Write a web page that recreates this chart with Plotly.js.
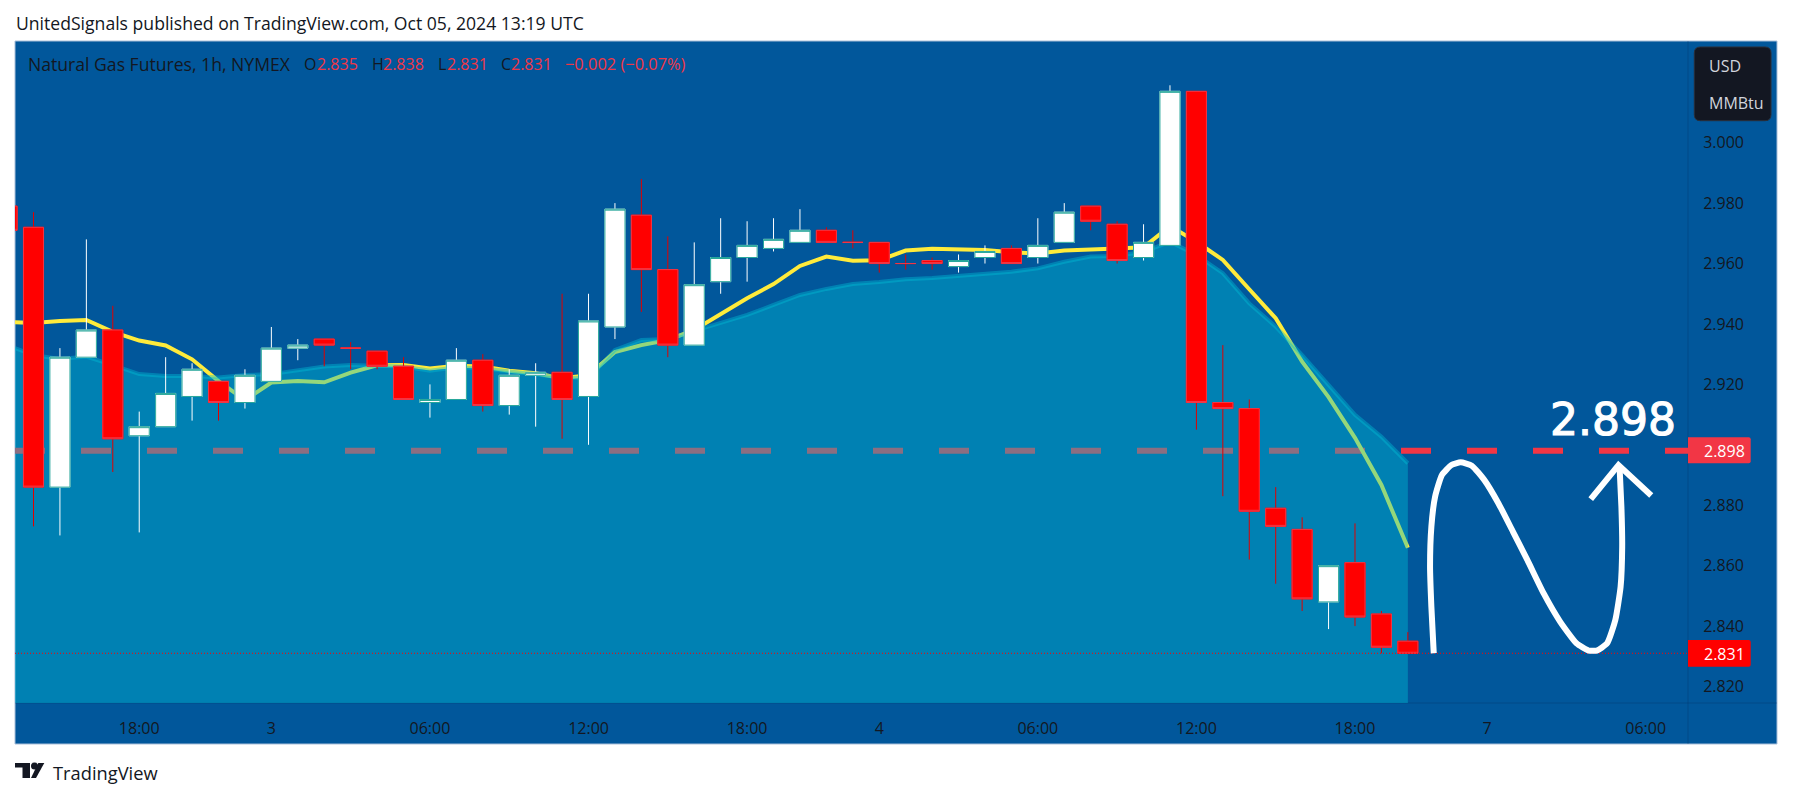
<!DOCTYPE html>
<html>
<head>
<meta charset="utf-8">
<script src="https://cdn.plot.ly/plotly-3.0.1.min.js"></script>
<style>
html,body{margin:0;padding:0;background:#fff;overflow:hidden}#chart{width:1793px;height:798px}
.annotation[data-index="11"] text{stroke:#ffffff;stroke-width:1.1px}
</style>
</head>
<body>
<div id="chart"></div>
<script>
// ---- data ----
var firstBar = -1;
var open  = [2.979,2.972,2.886,2.929,2.938,2.903,2.906,2.916,2.921,2.914,2.921,2.932,2.935,2.932,2.931,2.926,2.914,2.915,2.928,2.913,2.923,2.924,2.916,2.939,2.976,2.958,2.933,2.954,2.962,2.965,2.967,2.971,2.967,2.967,2.960,2.961,2.959,2.962,2.965,2.962,2.967,2.979,2.973,2.962,2.966,3.017,2.914,2.912,2.879,2.872,2.848,2.861,2.844,2.835];
var high  = [2.979,2.977,2.932,2.968,2.946,2.911,2.929,2.927,2.921,2.925,2.939,2.935,2.935,2.934,2.931,2.929,2.920,2.932,2.930,2.925,2.927,2.950,2.950,2.980,2.988,2.969,2.967,2.975,2.974,2.975,2.978,2.972,2.971,2.967,2.963,2.962,2.963,2.966,2.966,2.975,2.980,2.979,2.974,2.973,3.019,3.017,2.933,2.915,2.886,2.876,2.860,2.874,2.845,2.838];
var low   = [2.971,2.873,2.870,2.929,2.891,2.871,2.906,2.908,2.908,2.912,2.921,2.928,2.926,2.925,2.925,2.915,2.909,2.915,2.911,2.910,2.906,2.902,2.900,2.935,2.944,2.929,2.933,2.950,2.954,2.964,2.967,2.967,2.965,2.957,2.958,2.958,2.957,2.960,2.960,2.960,2.967,2.971,2.960,2.961,2.966,2.905,2.883,2.862,2.854,2.845,2.839,2.840,2.831,2.831];
var close = [2.971,2.886,2.929,2.938,2.902,2.906,2.917,2.925,2.914,2.923,2.932,2.933,2.933,2.932,2.926,2.915,2.915,2.928,2.913,2.923,2.924,2.915,2.941,2.978,2.958,2.933,2.953,2.962,2.966,2.968,2.971,2.967,2.967,2.960,2.960,2.960,2.961,2.964,2.960,2.966,2.977,2.974,2.961,2.967,3.017,2.914,2.912,2.878,2.873,2.849,2.860,2.843,2.833,2.831];
var emaFast = [2.9407,2.9403,2.9410,2.9413,2.9374,2.9345,2.9329,2.9283,2.9211,2.9148,2.9206,2.9211,2.9207,2.9239,2.9263,2.9264,2.9253,2.9262,2.9259,2.9245,2.9237,2.9220,2.9230,2.9307,2.9330,2.9347,2.9380,2.9433,2.9485,2.9532,2.9592,2.9623,2.9609,2.9611,2.9643,2.9649,2.9648,2.9645,2.9637,2.9633,2.9643,2.9648,2.9650,2.9654,2.9724,2.9672,2.9612,2.9515,2.9419,2.9275,2.9158,2.9023,2.8867,2.8659];
var emaSlow = [2.9330,2.9297,2.9284,2.9292,2.9264,2.9234,2.9228,2.9228,2.9223,2.9231,2.9234,2.9248,2.9259,2.9264,2.9261,2.9259,2.9245,2.9257,2.9253,2.9244,2.9234,2.9223,2.9220,2.9314,2.9347,2.9350,2.9377,2.9403,2.9430,2.9463,2.9496,2.9516,2.9532,2.9539,2.9548,2.9552,2.9559,2.9568,2.9573,2.9584,2.9606,2.9623,2.9625,2.9639,2.9672,2.9628,2.9568,2.9468,2.9391,2.9297,2.9198,2.9099,2.9027,2.8939];
var targetPrice = 2.898;
var lastPrice = 2.831;
var xTickBars = [4,9,15,21,27,32,38,44,50,55,61];
var xTickText = ['18:00','3','06:00','12:00','18:00','4','06:00','12:00','18:00','7','06:00'];
var yTickVals = [3.00,2.98,2.96,2.94,2.92,2.88,2.86,2.84,2.82];
var yTickText = ['3.000','2.980','2.960','2.940','2.920','2.880','2.860','2.840','2.820'];
// hand-drawn projection on the chart
var curveX = [52.98,52.89,52.84,52.89,53.03,53.29,53.65,54.00,54.42,54.89,55.43,55.98,56.52,57.14,57.76,58.38,58.84,59.15,59.54,59.85,60.05,60.11,60.08,60.01];
var curveY = [2.8310,2.8464,2.8597,2.8729,2.8828,2.8900,2.8933,2.8942,2.8931,2.8884,2.8806,2.8712,2.8619,2.8508,2.8415,2.8343,2.8319,2.8319,2.8343,2.8420,2.8530,2.8663,2.8795,2.8928];
var arrowX = [58.92,59.97,61.21];
var arrowY = [2.8820,2.8933,2.8832];

// ---- layout helpers ----
var FONT = '"Open Sans", "Noto Sans", sans-serif';
var INK = '#131722', SELL = '#f23645', BG = '#01579b', W = 1673, H = 662, L = 15, B = 703;
var xRange = [-0.70, 62.60], yRange = [2.81454, 3.03366];
var px = function (v) { return (v - L) / W; };
var py = function (v) { return (B - v) / H; };
var bars = open.map(function (_, i) { return firstBar + i; });
var bodyHigh = open.map(function (v, i) { return Math.max(v, close[i]); });
var bodyLow  = open.map(function (v, i) { return Math.min(v, close[i]); });

function text(t, x, y, size, color, anchor, family) {
  return { text: t, xref: 'paper', yref: 'paper', x: px(x), y: py(y), xanchor: anchor || 'left', yanchor: 'middle',
           showarrow: false, borderpad: 0, font: { family: family || FONT, size: size, color: color } };
}
function rect(x0, y0, x1, y1, fill, line) {
  return { type: 'rect', xref: 'paper', yref: 'paper', x0: px(x0), x1: px(x1), y0: py(y0), y1: py(y1),
           fillcolor: fill, line: { color: line || fill, width: line ? 1 : 0 }, layer: 'below' };
}
function rule(x0, y0, x1, y1, c) {
  return { type: 'line', xref: 'paper', yref: 'paper', x0: px(x0), x1: px(x1), y0: py(y0), y1: py(y1), line: { color: c, width: 1 }, layer: 'below' };
}
function poly(pts, fill) {
  var d = pts.map(function (p, i) { return (i ? 'L' : 'M') + px(p[0]) + ',' + py(p[1]); }).join(' ') + ' Z';
  return { type: 'path', xref: 'paper', yref: 'paper', path: d, fillcolor: fill, line: { width: 0 }, layer: 'above' };
}
// rectangle with rounded corners; rl / rr are the left and right radii in pixels
function rounded(x0, y0, x1, y1, rl, rr, fill, line) {
  var P = function (x, y) { return px(x) + ',' + py(y); };
  var d = 'M' + P(x0 + rl, y0) + ' L' + P(x1 - rr, y0) + ' Q' + P(x1, y0) + ' ' + P(x1, y0 + rr) +
          ' L' + P(x1, y1 - rr) + ' Q' + P(x1, y1) + ' ' + P(x1 - rr, y1) +
          ' L' + P(x0 + rl, y1) + ' Q' + P(x0, y1) + ' ' + P(x0, y1 - rl) +
          ' L' + P(x0, y0 + rl) + ' Q' + P(x0, y0) + ' ' + P(x0 + rl, y0) + ' Z';
  return { type: 'path', xref: 'paper', yref: 'paper', path: d, fillcolor: fill, line: { color: line || fill, width: line ? 1 : 0 }, layer: 'below' };
}

var overlay = { xaxis: 'x2', yaxis: 'y2', hoverinfo: 'skip', showlegend: false };
var traces = [
  { x: xRange, y: [targetPrice, targetPrice], mode: 'lines', hoverinfo: 'skip', line: { color: SELL, width: 6, dash: '30px,36px' } },
  { x: bars, y: emaFast, mode: 'lines', hoverinfo: 'skip', line: { color: '#ffeb3b', width: 4 } },
  { x: bars, y: emaSlow, mode: 'lines', hoverinfo: 'skip', fill: 'tozeroy', fillcolor: 'rgba(0,188,212,0.42)', line: { color: 'rgba(0,188,212,0.42)', width: 4 } },
  Object.assign({ type: 'candlestick', x: bars, open: open, high: high, low: low, close: close, whiskerwidth: 0,
    increasing: { line: { color: '#ffffff', width: 1 }, fillcolor: '#ffffff' },
    decreasing: { line: { color: '#e00000', width: 1 }, fillcolor: '#ff0000' } }, overlay),
  Object.assign({ type: 'candlestick', x: bars, open: open, high: bodyHigh, low: bodyLow, close: close, whiskerwidth: 0,
    increasing: { line: { color: '#26a69a', width: 1 }, fillcolor: '#ffffff' },
    decreasing: { line: { color: SELL, width: 1 }, fillcolor: '#ff0000' } }, overlay),
  Object.assign({ x: xRange, y: [lastPrice, lastPrice], mode: 'lines', line: { color: '#ff0000', width: 1, dash: '1px,2px' } }, overlay),
  Object.assign({ x: curveX, y: curveY, mode: 'lines', line: { color: '#ffffff', width: 6, shape: 'spline', smoothing: 0.5 } }, overlay),
  Object.assign({ x: arrowX, y: arrowY, mode: 'lines', line: { color: '#ffffff', width: 6 } }, overlay)
];

var annotations = [
  text('UnitedSignals published on TradingView.com, Oct 05, 2024 13:19 UTC', 15, 23, 17.6, INK),
  text('Natural Gas Futures, 1h, NYMEX', 27, 64, 17.6, INK),
  text('O', 303, 64, 16, INK), text('2.835', 316, 64, 16, SELL),
  text('H', 371, 64, 16, INK), text('2.838', 382, 64, 16, SELL),
  text('L', 437, 64, 16, INK), text('2.831', 446, 64, 16, SELL),
  text('C', 500, 64, 16, INK), text('2.831', 510, 64, 16, SELL),
  text('\u22120.002 (\u22120.07%)', 564, 64, 16.4, SELL),
  text('2.898', 1677, 419, 44, '#ffffff', 'right', '"DejaVu Sans"'),
  text('2.898', 1703, 451, 16, '#ffffff'),
  text('2.831', 1703, 654, 16, '#ffffff'),
  text('USD', 1708, 66, 16, '#d1d4dc'),
  text('MMBtu', 1708, 103, 16, '#d1d4dc'),
  text('TradingView', 51.7, 772, 18.3, INK)
];

var shapes = [
  rect(15, 41, 1777, 744, BG, '#a9bfd9'),
  rule(1688, 41, 1688, 744, 'rgba(10,40,90,0.28)'),
  rule(15, 703, 1777, 703, 'rgba(10,40,90,0.28)'),
  rounded(1688, 437.3, 1750.7, 463.3, 0, 2, SELL),
  rounded(1688, 640, 1750.7, 666.7, 0, 2, '#ff0000'),
  rounded(1694.3, 47, 1771, 120.7, 6, 6, INK, '#2a2e39'),
  poly([[15,763],[30,763],[30,778],[22.5,778],[22.5,767.5],[15,767.5]], INK),
  poly([[38.3,763],[44.3,763],[36,778],[31,778]], INK),
  { type: 'circle', xref: 'paper', yref: 'paper', x0: px(31), x1: px(38), y0: py(769.6), y1: py(762.6), fillcolor: INK, line: { width: 0 }, layer: 'above' }
];

var hiddenX = { overlaying: 'x', range: xRange, visible: false, fixedrange: true, rangeslider: { visible: false } };
var hiddenY = { overlaying: 'y', side: 'right', range: yRange, visible: false, fixedrange: true };

var layout = {
  width: 1793, height: 798,
  margin: { l: L, r: 105, t: 41, b: 95, pad: 0 },
  paper_bgcolor: '#ffffff', plot_bgcolor: 'rgba(0,0,0,0)',
  showlegend: false, hovermode: false, boxgap: 0.24, boxgroupgap: 0, boxmode: 'overlay',
  xaxis: { range: xRange, tickmode: 'array', tickvals: xTickBars, ticktext: xTickText, showgrid: false, zeroline: false,
           ticks: 'outside', ticklen: 11, tickcolor: 'rgba(0,0,0,0)', tickangle: 0, tickfont: { family: FONT, size: 16, color: INK },
           fixedrange: true, rangeslider: { visible: false } },
  yaxis: { side: 'right', range: yRange, tickmode: 'array', tickvals: yTickVals, ticktext: yTickText, showgrid: false, zeroline: false,
           ticks: 'outside', ticklen: 11, tickcolor: 'rgba(0,0,0,0)', tickfont: { family: FONT, size: 16, color: INK }, fixedrange: true },
  xaxis2: hiddenX, yaxis2: hiddenY,
  annotations: annotations, shapes: shapes
};
Plotly.newPlot('chart', traces, layout, { displayModeBar: false, staticPlot: true });
</script>
</body>
</html>
